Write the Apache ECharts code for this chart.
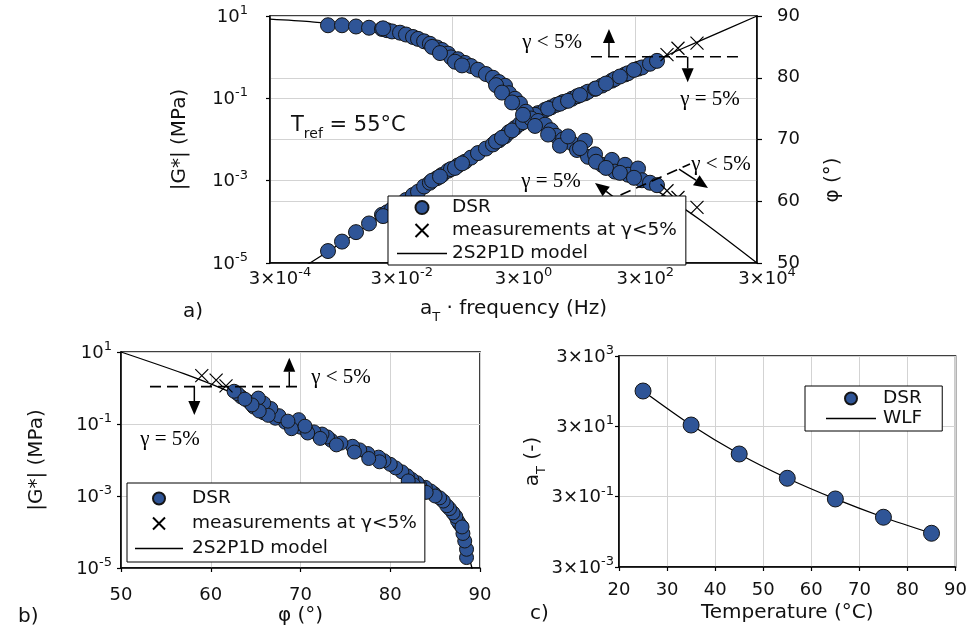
<!DOCTYPE html>
<html><head><meta charset="utf-8">
<script src="https://cdn.jsdelivr.net/npm/echarts@6/dist/echarts.min.js"></script>
<style>html,body{margin:0;padding:0;background:#fff}#c{width:970px;height:631px}</style>
</head><body><div id="c"></div><script>
// ---------------- data ----------------
// DSR master-curve points (reduced frequency a_T·f in Hz, |G*| in MPa, phase angle in deg)
const dsrFreq = [2.69e-3, 4.57e-3, 7.76e-3, 1.27e-2, 2.07e-2, 2.51e-2, 3.03e-2, 4.10e-2, 5.14e-2, 6.70e-2,
  8.10e-2, 0.102, 0.127, 0.166, 0.201, 0.252, 0.282, 0.367, 0.479, 0.601,
  0.783, 1.06, 1.38, 1.73, 2.18, 2.53, 3.18, 3.84, 4.81, 5.82,
  7.58, 9.88, 12.4, 15.0, 19.5, 27.4, 33.1, 44.8, 50.2, 65.5,
  85.3, 124, 139, 204, 228, 333, 387, 524, 683,
  2.16e-2, 0.138, 0.186, 0.328, 0.428, 1.55, 1.94, 2.84, 4.30, 6.77,
  11.1, 17.4, 23.6, 37.1, 68.0, 99.2, 168, 286];
const dsrG = [1.95e-5, 3.31e-5, 5.62e-5, 9.12e-5, 1.48e-4, 1.70e-4, 2.04e-4, 2.69e-4, 3.39e-4, 4.47e-4,
  5.37e-4, 7.24e-4, 8.91e-4, 1.15e-3, 1.38e-3, 1.74e-3, 1.91e-3, 2.34e-3, 2.88e-3, 3.63e-3,
  4.68e-3, 6.03e-3, 7.59e-3, 9.55e-3, 1.20e-2, 1.51e-2, 1.91e-2, 2.40e-2, 2.95e-2, 3.55e-2,
  4.37e-2, 5.25e-2, 6.03e-2, 6.92e-2, 8.13e-2, 9.77e-2, 0.112, 0.132, 0.145, 0.170,
  0.204, 0.269, 0.295, 0.380, 0.407, 0.525, 0.562, 0.692, 0.813,
  1.38e-4, 1.00e-3, 1.26e-3, 2.04e-3, 2.63e-3, 8.91e-3, 1.10e-2, 1.66e-2, 2.63e-2, 3.98e-2,
  5.62e-2, 7.41e-2, 8.71e-2, 0.120, 0.174, 0.229, 0.339, 0.490];
const dsrPhi = [88.5, 88.5, 88.3, 88.1, 87.9, 87.7, 87.5, 87.3, 87.0, 86.6,
  86.3, 85.9, 85.5, 84.9, 84.5, 83.9, 83.3, 83.0, 82.4, 81.9,
  81.3, 80.6, 80.0, 79.3, 78.7, 77.5, 76.6, 75.8, 74.5, 73.4,
  73.0, 72.4, 71.5, 70.6, 70.0, 69.4, 68.3, 69.8, 67.2, 67.6,
  65.9, 66.7, 64.8, 65.9, 64.3, 65.3, 63.4, 63.0, 62.6,
  88.0, 85.0, 84.0, 82.6, 82.0, 78.8, 77.6, 76.0, 74.0, 72.2,
  70.8, 69.0, 70.5, 68.6, 66.4, 65.4, 64.6, 63.8];
// measurements at strain < 5 %
const lowFreq = [997, 1510, 3100];
const lowG = [1.15, 1.65, 2.2];
const lowPhi = [61.7, 60.6, 59.0];
// 2S2P1D model
const modelFreq = [3e-4, 1.36e-3, 2.69e-3, 1.32e-2, 0.102, 0.783, 5.6, 48.4, 246, 709, 3470, 3e4];
const modelG = [2.5e-6, 1e-5, 1.9e-5, 8.9e-5, 7.2e-4, 4.7e-3, 3.2e-2, 0.141, 0.44, 0.89, 2.5, 10];
const modelPhi = [89.5, 89.1, 88.8, 88.2, 86.0, 81.5, 74.5, 68.0, 64.3, 61.6, 57.0, 50.0];
// shift factors
const shiftTemp = [25, 35, 45, 55, 65, 75, 85];
const shiftDSR = [303, 32.7, 4.9, 1.0, 0.258, 0.078, 0.0273];
const wlfTemp = [25, 35, 45, 55, 65, 75, 85];
const wlfShift = [303, 32.7, 4.9, 1.0, 0.258, 0.078, 0.0273];
// tick labels
const freqTickExp = ['-4', '-2', '0', '2', '4'];     // 3×10^n Hz
const modTickExp = ['-5', '-3', '-1', '1'];          // 10^n MPa
const phiTicks = ['50', '60', '70', '80', '90'];
const tempTicks = ['20', '30', '40', '50', '60', '70', '80', '90'];
const shiftTickExp = ['-3', '-1', '1', '3'];         // 3×10^n
// annotation anchors (data units)
const gammaLineA = {f: [56.2, 14600], g: 1.02};
const arrowUpA = {f: 111, g: [1.02, 4.83]};
const arrowDownA = {f: 2180, g: [1.02, 0.245]};
const labelLtA = {f: 12.9, g: 2.33};
const labelEqA = {f: 5070, g: 0.0964};
const gammaLineA2 = {f: [95.5, 2380], g: [3.03e-4, 2.54e-3]};
const arrowUpA2 = {f: [139, 65.5], g: [3.79e-4, 8.77e-4]};
const arrowDownA2 = {f: [1570, 4700], g: [1.92e-3, 6.64e-4]};
const labelEqA2 = {f: 12.4, g: 9.82e-4};
const labelLtA2 = {f: 7690, g: 2.54e-3};
const gammaLineB = {phi: [53.23, 69.72], g: 1.09};
const arrowUpB = {phi: 68.75, g: [1.09, 6.95]};
const arrowDownB = {phi: 58.17, g: [1.09, 0.178]};
const labelLtB = {phi: 74.51, g: 2.02};
const labelEqB = {phi: 55.46, g: 0.036};

// ---------------- helpers ----------------
const FONT = '"DejaVu Sans", Verdana, sans-serif';
const SERIF = '"Liberation Serif", "Times New Roman", serif';
const TXT = '#111';
const lg = Math.log10;
const fx = f => lg(f / 3);     // frequency axis coordinate (3×10^n ticks)
const gy = g => lg(g);         // modulus axis coordinate
const sy = a => lg(a / 3);     // shift factor axis coordinate

const supRich = {
  b: {fontSize: 18, fontFamily: FONT, color: TXT, verticalAlign: 'bottom', lineHeight: 20},
  s: {fontSize: 13, fontFamily: FONT, color: TXT, verticalAlign: 'bottom', lineHeight: 12, padding: [0, 0, 9, 0]}
};
const subRich = {
  b: {fontSize: 20, fontFamily: FONT, color: TXT, verticalAlign: 'top', lineHeight: 22},
  sub: {fontSize: 13, fontFamily: FONT, color: TXT, verticalAlign: 'top', lineHeight: 13, padding: [12, 0, 0, 0]}
};
function pick(arr, v, base) {
  for (let i = 0; i < arr.length; i++) if (Math.abs(base + i * 2 - v) < 1e-6) return arr[i];
  return '';
}
const axLine = {show: true, onZero: false, lineStyle: {color: '#000', width: 1.5}};
const split = {show: true, lineStyle: {color: '#d3d3d3', width: 1}};
const tick = len => ({show: true, length: len, inside: false, lineStyle: {color: '#000', width: 1.2}});
const dot = {color: '#2F5597', borderColor: '#151515', borderWidth: 1, opacity: 1};
const CROSS = 'path://M0,0L10,10M10,0L0,10';
const crossStyle = {color: 'rgba(0,0,0,0)', borderColor: '#000', borderWidth: 1.2, opacity: 1};
const modelLine = {color: '#000', width: 1.3};
const plainLbl = {fontSize: 18, fontFamily: FONT, color: TXT};
const LINE_ICON = 'path://M0,0H50V1.4H0Z';
const lineItem = name => ({name: name, icon: LINE_ICON, itemStyle: {color: '#000', borderWidth: 0}});

const option = {
  animation: false,
  backgroundColor: '#fff',
  textStyle: {fontFamily: FONT},
  grid: [
    {left: 270, top: 16, width: 487, height: 247, show: true, borderColor: '#000', borderWidth: 1.5},
    {left: 121, top: 352, width: 359, height: 216, show: true, borderColor: '#000', borderWidth: 1.5},
    {left: 619, top: 356, width: 337, height: 211, show: true, borderColor: '#000', borderWidth: 1.5}
  ],
  xAxis: [
    {gridIndex: 0, type: 'value', min: -4, max: 4, interval: 2, axisLine: axLine, axisTick: {show: false},
      splitLine: {show: false},
      axisLabel: {margin: 5, padding: [0, 0, 0, 20], rich: supRich,
        formatter: v => '{b|3×10}{s|' + pick(freqTickExp, v, -4) + '}'},
      name: '{b|a}{sub|T}{b| · frequency (Hz)}', nameLocation: 'middle', nameGap: 36,
      nameTextStyle: {rich: subRich}},
    {gridIndex: 0, type: 'value', min: -4, max: 4, interval: 3, axisLine: {show: false, onZero: false},
      axisTick: {show: false}, axisLabel: {show: false}, splitLine: split},
    {gridIndex: 1, type: 'value', min: 50, max: 90, interval: 10, axisLine: axLine, axisTick: tick(4),
      splitLine: split, axisLabel: Object.assign({margin: 18}, plainLbl),
      name: 'φ (°)', nameLocation: 'middle', nameGap: 38,
      nameTextStyle: {fontSize: 20, fontFamily: FONT, color: TXT}},
    {gridIndex: 2, type: 'value', min: 20, max: 90, interval: 10, axisLine: axLine, axisTick: tick(4),
      splitLine: split, axisLabel: Object.assign({margin: 14}, plainLbl),
      name: 'Temperature (°C)', nameLocation: 'middle', nameGap: 36,
      nameTextStyle: {fontSize: 20, fontFamily: FONT, color: TXT}}
  ],
  yAxis: [
    {gridIndex: 0, type: 'value', min: -5, max: 1, interval: 2, axisLine: axLine, axisTick: tick(4),
      splitLine: split,
      axisLabel: {margin: 22, rich: supRich, formatter: v => '{b|10}{s|' + pick(modTickExp, v, -5) + '}'},
      name: '|G*| (MPa)', nameLocation: 'middle', nameGap: 80,
      nameTextStyle: {fontSize: 20, fontFamily: FONT, color: TXT}},
    {gridIndex: 0, type: 'value', position: 'right', min: 50, max: 90, interval: 10, axisLine: axLine,
      axisTick: tick(5), splitLine: split, axisLabel: Object.assign({margin: 20}, plainLbl)},
    {gridIndex: 1, type: 'value', min: -5, max: 1, interval: 2, axisLine: axLine, axisTick: tick(4),
      splitLine: split,
      axisLabel: {margin: 9, rich: supRich, formatter: v => '{b|10}{s|' + pick(modTickExp, v, -5) + '}'},
      name: '|G*| (MPa)', nameLocation: 'middle', nameGap: 74,
      nameTextStyle: {fontSize: 20, fontFamily: FONT, color: TXT}},
    {gridIndex: 2, type: 'value', min: -3, max: 3, interval: 2, axisLine: axLine, axisTick: tick(4),
      splitLine: split,
      axisLabel: {margin: 5, rich: supRich, formatter: v => '{b|3×10}{s|' + pick(shiftTickExp, v, -3) + '}'},
      name: '{b|a}{sub|T}{b| (-)}', nameLocation: 'middle', nameGap: 74,
      nameTextStyle: {rich: subRich}}
  ],
  legend: [
    {data: ['DSR', 'measurements at γ<5%', lineItem('2S2P1D model')], orient: 'vertical', left: 388, top: 196,
      padding: [2, 9, 2, 9], itemGap: 4, itemWidth: 50, itemHeight: 13, backgroundColor: '#fff',
      borderColor: '#000', borderWidth: 1, z: 10, selectedMode: false,
      textStyle: {fontSize: 18.5, fontFamily: FONT, color: TXT}},
    {data: ['DSR', 'measurements at γ<5%', lineItem('2S2P1D model')], orient: 'vertical', left: 127, top: 483,
      padding: [6, 8, 4, 8], itemGap: 6, itemWidth: 48, itemHeight: 12, backgroundColor: '#fff',
      borderColor: '#000', borderWidth: 1, z: 10, selectedMode: false,
      textStyle: {fontSize: 18.5, fontFamily: FONT, color: TXT, padding: [0, 0, 0, 4]}},
    {data: ['DSR', lineItem('WLF')], orient: 'vertical', left: 805, top: 386,
      padding: [3, 20, 3, 21], itemGap: 1, itemWidth: 50, itemHeight: 12, backgroundColor: '#fff',
      borderColor: '#000', borderWidth: 1, z: 10, selectedMode: false,
      textStyle: {fontSize: 18.5, fontFamily: FONT, color: TXT, padding: [0, 0, 0, 2]}}
  ],
  series: [
    // ---- chart a ----
    {name: '2S2P1D model', type: 'line', xAxisIndex: 0, yAxisIndex: 0, symbol: 'none', smooth: 0.3,
      lineStyle: modelLine, itemStyle: {color: '#000'}, z: 2, silent: true, clip: true,
      data: modelFreq.map((f, i) => [fx(f), gy(modelG[i])])},
    {name: '2S2P1D model', type: 'line', xAxisIndex: 0, yAxisIndex: 1, symbol: 'none', smooth: 0.3,
      lineStyle: modelLine, itemStyle: {color: '#000'}, z: 2, silent: true, clip: true,
      data: modelFreq.map((f, i) => [fx(f), modelPhi[i]])},
    {name: 'DSR', type: 'scatter', xAxisIndex: 0, yAxisIndex: 0, symbolSize: 15, itemStyle: dot, z: 2,
      data: dsrFreq.map((f, i) => [fx(f), gy(dsrG[i])])},
    {name: 'DSR', type: 'scatter', xAxisIndex: 0, yAxisIndex: 1, symbolSize: 15, itemStyle: dot, z: 2,
      data: dsrFreq.map((f, i) => [fx(f), dsrPhi[i]])},
    {name: 'measurements at γ<5%', type: 'scatter', xAxisIndex: 0, yAxisIndex: 0, symbol: CROSS,
      symbolSize: 13, itemStyle: crossStyle, z: 2,
      data: lowFreq.map((f, i) => [fx(f), gy(lowG[i])])},
    {name: 'measurements at γ<5%', type: 'scatter', xAxisIndex: 0, yAxisIndex: 1, symbol: CROSS,
      symbolSize: 13, itemStyle: crossStyle, z: 2,
      data: lowFreq.map((f, i) => [fx(f), lowPhi[i]])},
    // ---- chart b ----
    {name: '2S2P1D model', type: 'line', xAxisIndex: 2, yAxisIndex: 2, symbol: 'none', smooth: 0.3,
      lineStyle: modelLine, itemStyle: {color: '#000'}, z: 2, silent: true, clip: true,
      data: modelPhi.map((p, i) => [p, gy(modelG[i])])},
    {name: 'DSR', type: 'scatter', xAxisIndex: 2, yAxisIndex: 2, symbolSize: 14, itemStyle: dot, z: 2,
      data: dsrPhi.map((p, i) => [p, gy(dsrG[i])])},
    {name: 'measurements at γ<5%', type: 'scatter', xAxisIndex: 2, yAxisIndex: 2, symbol: CROSS,
      symbolSize: 13, itemStyle: crossStyle, z: 2,
      data: lowPhi.map((p, i) => [p, gy(lowG[i])])},
    // ---- chart c ----
    {name: 'WLF', type: 'line', xAxisIndex: 3, yAxisIndex: 3, symbol: 'none', smooth: 0.3,
      lineStyle: modelLine, itemStyle: {color: '#000'}, z: 2, silent: true,
      data: wlfTemp.map((t, i) => [t, sy(wlfShift[i])])},
    {name: 'DSR', type: 'scatter', xAxisIndex: 3, yAxisIndex: 3, symbolSize: 16, itemStyle: dot, z: 2,
      data: shiftTemp.map((t, i) => [t, sy(shiftDSR[i])])}
  ]
};

const chart = echarts.init(document.getElementById('c'), null, {renderer: 'canvas', width: 970, height: 631});
chart.setOption(option);

// ---------------- annotations ----------------
const pa = (f, g) => chart.convertToPixel({seriesIndex: 2}, [fx(f), gy(g)]);
const pb = (phi, g) => chart.convertToPixel({seriesIndex: 7}, [phi, gy(g)]);
function arrow(p0, p1) {
  const dx = p1[0] - p0[0], dy = p1[1] - p0[1], L = Math.hypot(dx, dy);
  const ux = dx / L, uy = dy / L, hl = 14, hw = 6;
  const bx = p1[0] - ux * hl, by = p1[1] - uy * hl;
  return [
    {type: 'line', z: 3, shape: {x1: p0[0], y1: p0[1], x2: bx, y2: by}, style: {stroke: '#000', lineWidth: 1.5}},
    {type: 'polygon', z: 3, shape: {points: [[p1[0], p1[1]], [bx - uy * hw, by + ux * hw], [bx + uy * hw, by - ux * hw]]},
      style: {fill: '#000'}}
  ];
}
function dashed(p0, p1) {
  return {type: 'line', z: 3, shape: {x1: p0[0], y1: p0[1], x2: p1[0], y2: p1[1]},
    style: {stroke: '#000', lineWidth: 1.6, lineDash: [11, 6]}};
}
function gtext(p, s) {
  return {type: 'text', z: 3, x: p[0], y: p[1],
    style: {text: s, fontSize: 21, fontFamily: SERIF, fill: '#000', align: 'center', verticalAlign: 'middle'}};
}
function ptext(x, y, s, extra) {
  return Object.assign({type: 'text', z: 3, x: x, y: y,
    style: {text: s, fontSize: 20, fontFamily: FONT, fill: TXT, align: 'left', verticalAlign: 'middle'}}, extra || {});
}
const g = [];
g.push(dashed(pa(gammaLineA.f[0], gammaLineA.g), pa(gammaLineA.f[1], gammaLineA.g)));
g.push(...arrow(pa(arrowUpA.f, arrowUpA.g[0]), pa(arrowUpA.f, arrowUpA.g[1])));
g.push(...arrow(pa(arrowDownA.f, arrowDownA.g[0]), pa(arrowDownA.f, arrowDownA.g[1])));
g.push(gtext(pa(labelLtA.f, labelLtA.g), 'γ < 5%'));
g.push(gtext(pa(labelEqA.f, labelEqA.g), 'γ = 5%'));
g.push(dashed(pa(gammaLineA2.f[0], gammaLineA2.g[0]), pa(gammaLineA2.f[1], gammaLineA2.g[1])));
g.push(...arrow(pa(arrowUpA2.f[0], arrowUpA2.g[0]), pa(arrowUpA2.f[1], arrowUpA2.g[1])));
g.push(...arrow(pa(arrowDownA2.f[0], arrowDownA2.g[0]), pa(arrowDownA2.f[1], arrowDownA2.g[1])));
g.push(gtext(pa(labelEqA2.f, labelEqA2.g), 'γ = 5%'));
g.push(gtext(pa(labelLtA2.f, labelLtA2.g), 'γ < 5%'));
g.push(dashed(pb(gammaLineB.phi[0], gammaLineB.g), pb(gammaLineB.phi[1], gammaLineB.g)));
g.push(...arrow(pb(arrowUpB.phi, arrowUpB.g[0]), pb(arrowUpB.phi, arrowUpB.g[1])));
g.push(...arrow(pb(arrowDownB.phi, arrowDownB.g[0]), pb(arrowDownB.phi, arrowDownB.g[1])));
g.push(gtext(pb(labelLtB.phi, labelLtB.g), 'γ < 5%'));
g.push(gtext(pb(labelEqB.phi, labelEqB.g), 'γ = 5%'));
// panel letters, reference temperature, right axis title
g.push(ptext(183, 312, 'a)'));
g.push(ptext(18, 617, 'b)'));
g.push(ptext(530, 614, 'c)'));
g.push({type: 'text', z: 3, x: 291, y: 127,
  style: {text: '{b|T}{sub|ref}{b| = 55°C}', rich: {
    b: {fontSize: 21, fontFamily: FONT, fill: TXT, color: TXT, verticalAlign: 'top', lineHeight: 23},
    sub: {fontSize: 14, fontFamily: FONT, fill: TXT, color: TXT, verticalAlign: 'top', lineHeight: 14, padding: [12, 0, 0, 0]}},
    align: 'left', verticalAlign: 'middle'}});
g.push({type: 'text', z: 3, x: 833, y: 180, rotation: Math.PI / 2,
  style: {text: 'φ (°)', fontSize: 20, fontFamily: FONT, fill: TXT, align: 'center', verticalAlign: 'middle'}});
chart.setOption({graphic: {elements: g}});
</script></body></html>
